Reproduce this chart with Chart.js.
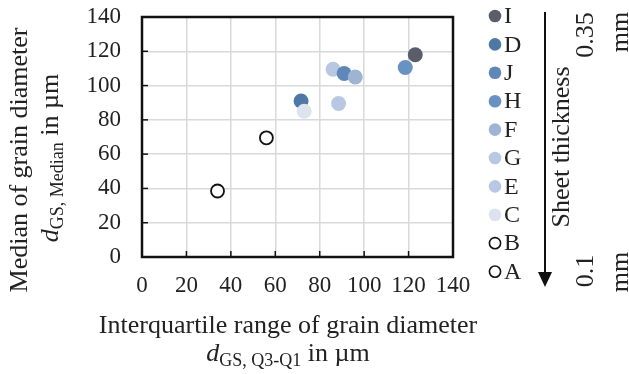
<!DOCTYPE html>
<html><head><meta charset="utf-8">
<script src="https://cdn.jsdelivr.net/npm/chart.js@4"></script>
<style>html,body{margin:0;padding:0;background:#fff}</style>
</head><body>
<canvas id="c" width="629" height="374" style="width:629px;height:374px;display:block"></canvas>
<script>
// ---- data ----
const seriesNames   = ['C', 'F', 'J', 'I', 'D', 'H', 'G', 'E', 'B', 'A'];
const iqrValues     = [73, 96, 91, 123, 71.6, 118.5, 86, 88.5, 56, 34];
const medianValues  = [85, 105, 107, 118, 91, 110.5, 109.5, 89.5, 69.5, 38.5];
const seriesColors  = ['#dce3ef', '#9fb4d3', '#5f88b8', '#595e69', '#4f78a5', '#6892c0', '#b8c8e2', '#b8c8e2', null, null];
const legendOrder   = ['I', 'D', 'J', 'H', 'F', 'G', 'E', 'C', 'B', 'A'];
const xTickValues   = [0, 20, 40, 60, 80, 100, 120, 140];
const yTickValues   = [0, 20, 40, 60, 80, 100, 120, 140];

const FONT = "'Liberation Serif', 'Times New Roman', serif";
const TXT = '#222222';
Chart.defaults.font.family = FONT;
Chart.defaults.color = TXT;

const datasets = seriesNames.map((n, i) => {
  const open = seriesColors[i] === null;
  return {
    label: n,
    data: [{x: iqrValues[i], y: medianValues[i]}],
    pointStyle: 'circle',
    pointRadius: open ? 6.5 : 7.5,
    pointHoverRadius: open ? 6.5 : 7.5,
    backgroundColor: open ? '#ffffff' : seriesColors[i],
    borderColor: open ? '#111111' : seriesColors[i],
    borderWidth: open ? 1.8 : 0,
  };
});

const target = {left: 142, right: 453, top: 17, bottom: 257};
const layoutVals = {yTop: 17};

const decor = {
  id: 'decor',
  beforeDatasetsDraw(chart) {
    const ctx = chart.ctx, a = chart.chartArea;
    const xs = chart.scales.x, ys = chart.scales.y;
    ctx.save();
    ctx.strokeStyle = '#111';
    ctx.lineWidth = 1.5;
    xTickValues.forEach(v => {
      const px = xs.getPixelForValue(v);
      ctx.beginPath(); ctx.moveTo(px, a.bottom); ctx.lineTo(px, a.bottom - 6); ctx.stroke();
    });
    yTickValues.forEach(v => {
      const py = ys.getPixelForValue(v);
      ctx.beginPath(); ctx.moveTo(a.left, py); ctx.lineTo(a.left + 6, py); ctx.stroke();
    });
    ctx.lineWidth = 2.5;
    ctx.strokeRect(a.left, a.top, a.right - a.left, a.bottom - a.top);
    ctx.restore();
  },
  afterDraw(chart) {
    const ctx = chart.ctx;
    ctx.save();
    ctx.fillStyle = TXT;
    ctx.textBaseline = 'middle';
    function composed(sub, rest, cx, cy, rot) {
      ctx.save();
      ctx.translate(cx, cy);
      if (rot) ctx.rotate(-Math.PI / 2);
      const fMain = '26px ' + FONT, fIt = 'italic 26px ' + FONT, fSub = '18px ' + FONT;
      ctx.font = fIt; const w1 = ctx.measureText('d').width;
      ctx.font = fSub; const w2 = ctx.measureText(sub).width;
      ctx.font = fMain; const w3 = ctx.measureText(rest).width;
      let x = -(w1 + w2 + w3) / 2;
      ctx.textAlign = 'left';
      ctx.font = fIt; ctx.fillText('d', x, 0); x += w1;
      ctx.font = fSub; ctx.fillText(sub, x, 7); x += w2;
      ctx.font = fMain; ctx.fillText(rest, x, 0);
      ctx.restore();
    }
    function rotText(t, cx, cy, size) {
      ctx.save();
      ctx.translate(cx, cy);
      ctx.rotate(-Math.PI / 2);
      ctx.font = size + 'px ' + FONT;
      ctx.textAlign = 'center';
      ctx.fillText(t, 0, 0);
      ctx.restore();
    }
    // y title
    rotText('Median of grain diameter', 20, 160, 26);
    composed('GS, Median', ' in µm', 51, 158, true);
    // x title
    ctx.font = '26px ' + FONT; ctx.textAlign = 'center';
    ctx.fillText('Interquartile range of grain diameter', 288, 326);
    composed('GS, Q3-Q1', ' in µm', 288, 354, false);

    // legend (built from the chart's datasets, in legendOrder)
    legendOrder.forEach((name, row) => {
      const ds = chart.data.datasets.find(d => d.label === name);
      const cy = 16 + row * 28.4;
      ctx.beginPath();
      const open = ds.borderWidth > 0;
      ctx.arc(495, cy, open ? 5.6 : 6.3, 0, Math.PI * 2);
      if (open) { ctx.lineWidth = 1.6; ctx.strokeStyle = '#111'; ctx.stroke(); }
      else { ctx.fillStyle = ds.backgroundColor; ctx.fill(); }
      ctx.fillStyle = TXT;
      ctx.font = '24px ' + FONT;
      ctx.textAlign = 'left';
      ctx.fillText(name, 504, cy + 1);
    });

    // arrow
    ctx.strokeStyle = '#111'; ctx.fillStyle = '#111'; ctx.lineWidth = 2;
    ctx.beginPath(); ctx.moveTo(545, 12); ctx.lineTo(545, 276); ctx.stroke();
    ctx.beginPath(); ctx.moveTo(538, 272); ctx.lineTo(552, 272); ctx.lineTo(545, 287); ctx.closePath(); ctx.fill();
    ctx.fillStyle = TXT;
    rotText('Sheet thickness', 562, 147, 26);
    rotText('0.35', 586, 35, 26);
    rotText('mm', 621, 32, 26);
    rotText('0.1', 586, 271, 26);
    rotText('mm', 621, 272, 26);
    ctx.restore();
  }
};

const chart = new Chart(document.getElementById('c'), {
  type: 'scatter',
  data: {datasets},
  options: {
    responsive: false,
    animation: false,
    devicePixelRatio: 1,
    layout: {padding: {left: 0, right: 629 - target.right, top: 0, bottom: 0}},
    plugins: {
      tooltip: {enabled: false},
      legend: {display: false}
    },
    scales: {
      x: {
        type: 'linear', min: 0, max: 140,
        afterBuildTicks: s => { s.ticks = xTickValues.map(v => ({value: v})); },
        ticks: {padding: 15, font: {size: 23, family: FONT}, color: TXT, maxRotation: 0},
        grid: {color: '#d9d9d9', lineWidth: 1.5, drawTicks: false},
        border: {display: false},
        afterFit: s => { s.height = 374 - target.bottom; s.paddingLeft = 0; s.paddingRight = 0; },
      },
      y: {
        type: 'linear', min: 0, max: 140,
        afterBuildTicks: s => { s.ticks = yTickValues.map(v => ({value: v})); },
        ticks: {padding: 21, font: {size: 23, family: FONT}, color: TXT},
        grid: {color: '#d9d9d9', lineWidth: 1.5, drawTicks: false},
        border: {display: false},
        afterFit: s => { s.width = target.left; s.paddingTop = layoutVals.yTop; s.paddingBottom = 0; },
      }
    }
  },
  plugins: [decor]
});

// align chart area with the reference frame
for (let k = 0; k < 3; k++) {
  const ca = chart.chartArea;
  chart.options.layout.padding.right += ca.right - target.right;
  layoutVals.yTop += target.top - ca.top;
  chart.update();
}
</script>
</body></html>
